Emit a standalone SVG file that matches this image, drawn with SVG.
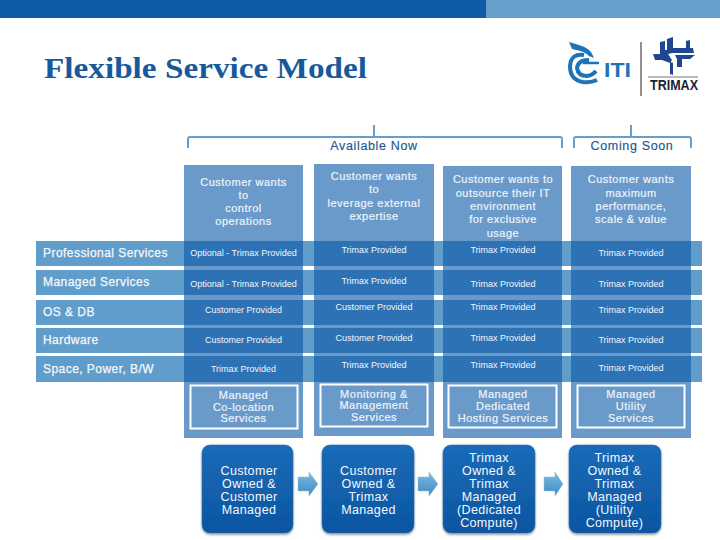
<svg xmlns="http://www.w3.org/2000/svg" width="720" height="540" viewBox="0 0 720 540">
<style>
text{font-family:"Liberation Sans",Arial,sans-serif;text-anchor:middle}
.title{font-family:"Liberation Serif","Times New Roman",serif;font-weight:700;font-size:29px;fill:#175a9c;text-anchor:start}
.br{fill:none;stroke:#659fca;stroke-width:2}
.hd{font-size:12.5px;letter-spacing:.65px;fill:#1c5590;stroke:#1c5590;stroke-width:.15}
.col{fill:#6a9aca}
.band{fill:#619dca}
.cell{fill:#2d72b5}
.h{font-size:11px;letter-spacing:.5px;fill:#eef4fa;stroke:#eef4fa;stroke-width:.2}
.c{font-size:9px;fill:#f2f6fb}
.r{font-size:12px;fill:#f4f8fc;text-anchor:start;letter-spacing:.45px;stroke:#f4f8fc;stroke-width:.25}
.ib{fill:none;stroke:#fff;stroke-width:2}
.b{fill:url(#bg);stroke:#2a6fb0;stroke-width:.6;filter:url(#sh)}
.t{font-size:12.5px;letter-spacing:.35px;fill:#f4f8fc}
.a{fill:url(#ag);stroke:#8fc0de;stroke-width:.5}
.iti{fill:none;stroke:#1d74b8;stroke-linecap:butt}
.tm{fill:#1f4690}
</style>
<defs>
<linearGradient id="bg" x1="0" y1="0" x2="0" y2="1"><stop offset="0" stop-color="#1a6bb8"/><stop offset="1" stop-color="#0c55a1"/></linearGradient>
<linearGradient id="ag" x1="0" y1="0" x2="0" y2="1"><stop offset="0" stop-color="#7dbce0"/><stop offset="1" stop-color="#3f88c2"/></linearGradient>
<filter id="sh" x="-10%" y="-10%" width="120%" height="120%"><feDropShadow dx="0" dy="1.5" stdDeviation="1.2" flood-color="#000" flood-opacity=".4"/></filter>
</defs>
<rect width="720" height="540" fill="#fff"/>
<g id="header">
<rect width="486" height="18" fill="#0f5ca6"/>
<rect x="486" width="234" height="18" fill="#659fca"/>
<text x="44" y="78" class="title" textLength="323" lengthAdjust="spacingAndGlyphs">Flexible Service Model</text>
</g>
<g id="logo">
<path d="M569 42L579 45Q591 48 594 58L589 56Q584 51 576 50L572 49Z" fill="#1d74b8"/>
<path class="iti" stroke-width="4" d="M584 55Q571 53 570 66Q570 80 583 82Q591 83 597 80"/>
<path class="iti" stroke-width="4" d="M589 60Q578 60 577 68Q578 76 587 76Q593 75 596 71"/>
<path class="iti" stroke-width="2.500" d="M583 63H599"/>
<text x="604" y="77" font-size="21" font-weight="700" fill="#1d74b8" style="text-anchor:start" textLength="27" lengthAdjust="spacingAndGlyphs">ITI</text>
<path d="M641 42V96" stroke="#222" stroke-width="1"/>
<path class="tm" d="M667 39L673 37V48H686V41L690 40V48H693L694 53H672L668 54H660V42L665 41V50H667Z"/>
<path class="tm" d="M653 54H668L672 60L670 63L662 60H655Z"/>
<path class="tm" d="M670 62L673 63V75L670 74Z"/>
<path class="tm" d="M675 55H695L690 59H682V67L677 67V59Z"/>
<circle cx="672" cy="57" r="1.500" fill="#fff"/>
<path d="M648 77H698" stroke="#777" stroke-width="1"/>
<text x="650" y="90" font-size="14" font-weight="700" fill="#1b2430" style="text-anchor:start" textLength="48" lengthAdjust="spacingAndGlyphs">TRIMAX</text>
</g>
<g id="connectors">
<path class="br" d="M188 148V139Q188 137 190 137H560Q562 137 562 139V148M374 136V125"/>
<path class="br" d="M574 148V139Q574 137 576 137H689Q691 137 691 139V148M631 136V125"/>
<path class="a" d="M298 477H309V472L318 484L309 496V491H298Z"/>
<path class="a" d="M418 477H429V472L438 484L429 496V491H418Z"/>
<path class="a" d="M544 477H555V472L563 484L555 496V491H544Z"/>
</g>
<g id="labels">
<text x="374" y="150" class="hd">Available Now</text>
<text x="632" y="150" class="hd">Coming Soon</text>
</g>
<g id="bands">
<rect class="band" x="36" y="241" width="666" height="25"/>
<rect class="band" x="36" y="270" width="666" height="25"/>
<rect class="band" x="36" y="300" width="666" height="25"/>
<rect class="band" x="36" y="328" width="666" height="25"/>
<rect class="band" x="36" y="356" width="666" height="26"/>
</g>
<g id="col1">
<rect class="col" x="184" y="165" width="119" height="273"/>
<g class="cell"><rect x="184" y="241" width="119" height="25"/><rect x="184" y="270" width="119" height="25"/><rect x="184" y="300" width="119" height="25"/><rect x="184" y="328" width="119" height="25"/><rect x="184" y="356" width="119" height="26"/></g>
<text class="h" x="243.500" y="186">Customer wants</text><text class="h" x="243.500" y="199">to</text><text class="h" x="243.500" y="212">control</text><text class="h" x="243.500" y="225">operations</text>
<text class="c" x="243.500" y="256">Optional - Trimax Provided</text><text class="c" x="243.500" y="287">Optional - Trimax Provided</text><text class="c" x="243.500" y="313">Customer Provided</text><text class="c" x="243.500" y="343">Customer Provided</text><text class="c" x="243.500" y="372">Trimax Provided</text>
<rect class="ib" x="190.500" y="385.500" width="107" height="43"/>
<text class="h" x="243.500" y="399">Managed</text><text class="h" x="243.500" y="410.500">Co-location</text><text class="h" x="243.500" y="422">Services</text>
</g>
<g id="col2">
<rect class="col" x="314" y="164" width="120" height="272"/>
<g class="cell"><rect x="314" y="241" width="120" height="25"/><rect x="314" y="270" width="120" height="25"/><rect x="314" y="300" width="120" height="25"/><rect x="314" y="328" width="120" height="25"/><rect x="314" y="356" width="120" height="26"/></g>
<text class="h" x="374" y="180">Customer wants</text><text class="h" x="374" y="193">to</text><text class="h" x="374" y="207">leverage external</text><text class="h" x="374" y="220">expertise</text>
<text class="c" x="374" y="253">Trimax Provided</text><text class="c" x="374" y="284">Trimax Provided</text><text class="c" x="374" y="310">Customer Provided</text><text class="c" x="374" y="341">Customer Provided</text><text class="c" x="374" y="368">Trimax Provided</text>
<rect class="ib" x="320.500" y="384.500" width="107" height="42"/>
<text class="h" x="374" y="398">Monitoring &amp;</text><text class="h" x="374" y="409">Management</text><text class="h" x="374" y="421">Services</text>
</g>
<g id="col3">
<rect class="col" x="443" y="166" width="119" height="272"/>
<g class="cell"><rect x="443" y="241" width="119" height="25"/><rect x="443" y="270" width="119" height="25"/><rect x="443" y="300" width="119" height="25"/><rect x="443" y="328" width="119" height="25"/><rect x="443" y="356" width="119" height="26"/></g>
<text class="h" x="503" y="183">Customer wants to</text><text class="h" x="503" y="197">outsource their IT</text><text class="h" x="503" y="210">environment</text><text class="h" x="503" y="223">for exclusive</text><text class="h" x="503" y="237">usage</text>
<text class="c" x="503" y="253">Trimax Provided</text><text class="c" x="503" y="287">Trimax Provided</text><text class="c" x="503" y="310">Trimax Provided</text><text class="c" x="503" y="341">Trimax Provided</text><text class="c" x="503" y="368">Trimax Provided</text>
<rect class="ib" x="448.500" y="385.500" width="108" height="42"/>
<text class="h" x="503" y="398">Managed</text><text class="h" x="503" y="410">Dedicated</text><text class="h" x="503" y="422">Hosting Services</text>
</g>
<g id="col4">
<rect class="col" x="571" y="166" width="120" height="272"/>
<g class="cell"><rect x="571" y="241" width="120" height="25"/><rect x="571" y="270" width="120" height="25"/><rect x="571" y="300" width="120" height="25"/><rect x="571" y="328" width="120" height="25"/><rect x="571" y="356" width="120" height="26"/></g>
<text class="h" x="631" y="183">Customer wants</text><text class="h" x="631" y="197">maximum</text><text class="h" x="631" y="210">performance,</text><text class="h" x="631" y="223">scale &amp; value</text>
<text class="c" x="631" y="256">Trimax Provided</text><text class="c" x="631" y="287">Trimax Provided</text><text class="c" x="631" y="313">Trimax Provided</text><text class="c" x="631" y="343">Trimax Provided</text><text class="c" x="631" y="371">Trimax Provided</text>
<rect class="ib" x="577.500" y="385.500" width="107" height="42"/>
<text class="h" x="631" y="398">Managed</text><text class="h" x="631" y="410">Utility</text><text class="h" x="631" y="422">Services</text>
</g>
<g id="rows">
<text class="r" x="43" y="257">Professional Services</text>
<text class="r" x="43" y="286">Managed Services</text>
<text class="r" x="43" y="316">OS &amp; DB</text>
<text class="r" x="43" y="344">Hardware</text>
<text class="r" x="43" y="373">Space, Power, B/W</text>
</g>
<g id="box1"><rect class="b" x="202" y="445" width="91" height="88" rx="8"/>
<text class="t" x="249" y="475">Customer</text><text class="t" x="249" y="488">Owned &amp;</text><text class="t" x="249" y="501">Customer</text><text class="t" x="249" y="514">Managed</text></g>
<g id="box2"><rect class="b" x="322" y="445" width="92" height="88" rx="8"/>
<text class="t" x="368.500" y="475">Customer</text><text class="t" x="368.500" y="488">Owned &amp;</text><text class="t" x="368.500" y="501">Trimax</text><text class="t" x="368.500" y="514">Managed</text></g>
<g id="box3"><rect class="b" x="443" y="445" width="92" height="88" rx="8"/>
<text class="t" x="489" y="462">Trimax</text><text class="t" x="489" y="475">Owned &amp;</text><text class="t" x="489" y="488">Trimax</text><text class="t" x="489" y="501">Managed</text><text class="t" x="489" y="514">(Dedicated</text><text class="t" x="489" y="527">Compute)</text></g>
<g id="box4"><rect class="b" x="569" y="445" width="92" height="88" rx="8"/>
<text class="t" x="614.500" y="462">Trimax</text><text class="t" x="614.500" y="475">Owned &amp;</text><text class="t" x="614.500" y="488">Trimax</text><text class="t" x="614.500" y="501">Managed</text><text class="t" x="614.500" y="514">(Utility</text><text class="t" x="614.500" y="527">Compute)</text></g>
</svg>
